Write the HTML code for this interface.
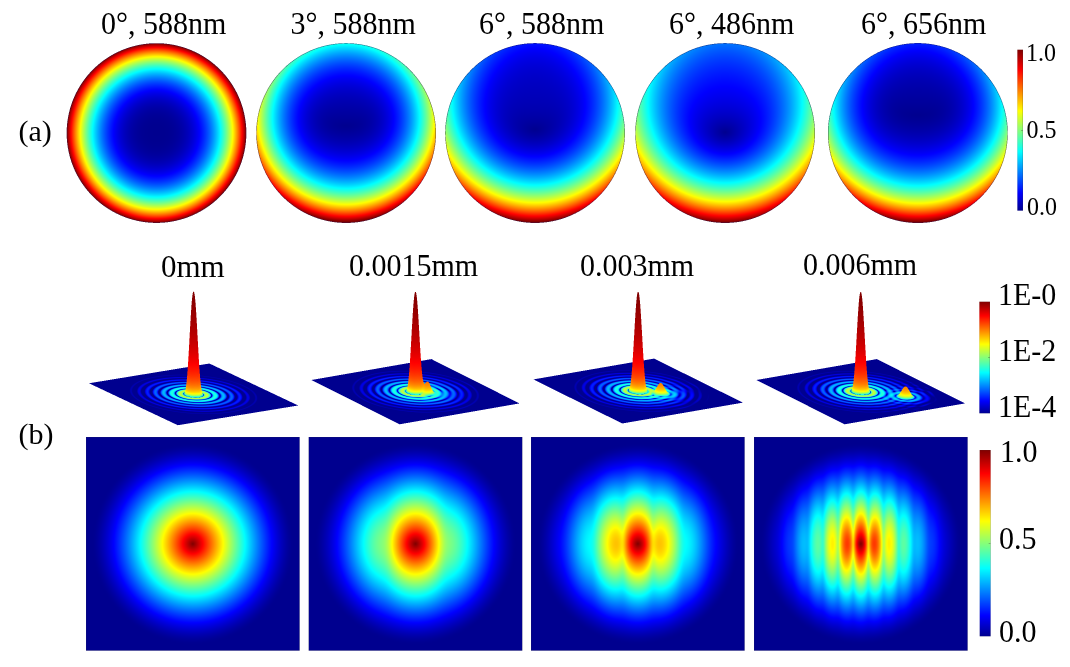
<!DOCTYPE html>
<html>
<head>
<meta charset="utf-8">
<style>
html,body{margin:0;padding:0;background:#fff;}
body{width:1070px;height:667px;position:relative;overflow:hidden;font-family:"Liberation Serif",serif;color:#000;}
#c{position:absolute;left:0;top:0;width:1070px;height:667px;}
.t{position:absolute;white-space:nowrap;line-height:1;font-size:30px;}
.s{font-size:24px;}
.d{transform:scaleY(1.065);transform-origin:0 26.7px;}
.s.d{transform:scaleY(1.035);transform-origin:0 21.4px;}
.fb{position:absolute;}
.jet{background:linear-gradient(to top,#00008f 0%,#0000ff 12.5%,#00ffff 37.5%,#ffff00 62.5%,#ff0000 87.5%,#800000 100%);}
.sq{top:437px;width:214px;height:214px;background:radial-gradient(circle at center,#800000 0,#ff0000 13px,#ffff00 30px,#00ffff 52px,#0000ff 77px,#00008f 100px);}
.ci{top:43.5px;width:179px;height:179px;border-radius:50%;}
</style>
</head>
<body>
<div class="fb ci" style="left:67px;background:radial-gradient(circle at center,#00008f 0,#00008f 22px,#0000ff 44px,#00ffff 63px,#ffff00 76px,#ff0000 85px,#800000 90px)"></div>
<div class="fb ci" style="left:256.5px;background:radial-gradient(circle at 50% 43%,#00008f 0,#00008f 12px,#0000ff 42px,#00ffff 72px,#ffff00 86px,#ff0000 96px,#800000 104px)"></div>
<div class="fb ci" style="left:445.5px;background:radial-gradient(circle at 50% 28%,#00008f 0,#00008f 20px,#0000ff 55px,#00ffff 100px,#ffff00 116px,#ff0000 127px,#800000 133px)"></div>
<div class="fb ci" style="left:635.5px;background:radial-gradient(circle at 50% 30%,#00008f 0,#00008f 15px,#0000ff 48px,#00ffff 95px,#ffff00 113px,#ff0000 124px,#800000 130px)"></div>
<div class="fb ci" style="left:828.2px;background:radial-gradient(circle at 50% 25%,#00008f 0,#00008f 30px,#0000ff 62px,#00ffff 106px,#ffff00 122px,#ff0000 131px,#800000 137px)"></div>
<div class="fb jet" style="left:1017px;top:50px;width:6px;height:161px"></div>
<div class="fb jet" style="left:979px;top:302px;width:11px;height:111px"></div>
<div class="fb jet" style="left:980px;top:450px;width:11px;height:186px"></div>
<div class="fb sq" style="left:86px"></div>
<div class="fb sq" style="left:308.7px"></div>
<div class="fb sq" style="left:531px"></div>
<div class="fb sq" style="left:754px"></div>
<svg class="fb" style="left:0;top:0" width="1070" height="667">
<g fill="#00008f"><polygon points="89,383.3 209.4,363.5 298.2,405.5 177.8,425.2"/><polygon points="311.4,379.9 431.4,359.2 519.5,403.3 399.6,424.4"/><polygon points="533.2,379.2 654.2,358.8 742.8,402.4 622.4,423.7"/><polygon points="756.4,379.9 876.8,359.2 965,403.3 844.6,424.4"/></g>
<g fill="none" stroke="#0060ff" stroke-width="3" opacity="0.8"><ellipse cx="193.6" cy="394.4" rx="40" ry="13"/><ellipse cx="415.5" cy="391.6" rx="40" ry="13"/><ellipse cx="638" cy="390.8" rx="40" ry="13"/><ellipse cx="860.7" cy="391.6" rx="40" ry="13"/></g>
<g fill="#00ffff" opacity="0.7"><ellipse cx="193.6" cy="394.4" rx="18" ry="6"/><ellipse cx="415.5" cy="391.6" rx="18" ry="6"/><ellipse cx="638" cy="390.8" rx="18" ry="6"/><ellipse cx="860.7" cy="391.6" rx="18" ry="6"/></g>
<g fill="#e00000"><polygon points="193.5,291.7 185,392 202,392"/><polygon points="415.7,292.1 407,390 424,390"/><polygon points="638.1,292.1 629.5,389 646.5,389"/><polygon points="860.7,292.1 852,390 869,390"/></g>
</svg>
<canvas id="c" width="1070" height="667"></canvas>

<div class="t d" style="left:101px;top:8.5px">0°, 588nm</div>
<div class="t d" style="left:290.5px;top:8.5px">3°, 588nm</div>
<div class="t d" style="left:479px;top:8.5px">6°, 588nm</div>
<div class="t d" style="left:669px;top:8.5px">6°, 486nm</div>
<div class="t d" style="left:861px;top:8.5px">6°, 656nm</div>
<div class="t" style="left:18.5px;top:116px">(a)</div>
<div class="t d s" style="left:1026px;top:40.5px">1.0</div>
<div class="t d s" style="left:1026.5px;top:117.5px">0.5</div>
<div class="t d s" style="left:1027px;top:194.5px">0.0</div>

<div class="t" style="left:161px;top:250.5px;font-size:31px">0mm</div>
<div class="t d" style="left:349px;top:250.5px">0.0015mm</div>
<div class="t d" style="left:580px;top:250.5px">0.003mm</div>
<div class="t d" style="left:803px;top:250px">0.006mm</div>
<div class="t d" style="left:998px;top:280px">1E-0</div>
<div class="t d" style="left:998px;top:335.5px">1E-2</div>
<div class="t d" style="left:998px;top:391.5px">1E-4</div>
<div class="t" style="left:18.5px;top:418.5px">(b)</div>
<div class="t d" style="left:1000px;top:436.5px">1.0</div>
<div class="t d" style="left:999px;top:523.5px">0.5</div>
<div class="t d" style="left:999px;top:616.5px">0.0</div>

<script>
(function(){
var W=1070,H=667,SS=3,SW=W*SS,SH=H*SS;
var buf=new Float32Array(SW*SH*3);
for(var i=0;i<buf.length;i++)buf[i]=255;
// jet(64)
var JR=new Float32Array(64),JG=new Float32Array(64),JB=new Float32Array(64);
(function(){var n=16,u=[],k;for(k=1;k<=n;k++)u.push(k/n);for(k=1;k<n;k++)u.push(1);for(k=n;k>=1;k--)u.push(k/n);
for(k=0;k<u.length;k++){var gi=8+k+1,ri=gi+n,bi=gi-n;
if(gi>=1&&gi<=64)JG[gi-1]=u[k];if(ri>=1&&ri<=64)JR[ri-1]=u[k];if(bi>=1&&bi<=64)JB[bi-1]=u[k];}})();
function jet(v,out){if(!(v>0))v=0;if(v>1)v=1;var t=v*63,i=Math.floor(t);if(i>=63){i=62;}var f=t-i;
out[0]=255*(JR[i]+(JR[i+1]-JR[i])*f);out[1]=255*(JG[i]+(JG[i+1]-JG[i])*f);out[2]=255*(JB[i]+(JB[i+1]-JB[i])*f);}
var col=[0,0,0];
function put(X,Y,r,g,b,a){if(X<0||Y<0||X>=SW||Y>=SH)return;var o=(Y*SW+X)*3;
if(a>=1){buf[o]=r;buf[o+1]=g;buf[o+2]=b;}else if(a>0){buf[o]+=(r-buf[o])*a;buf[o+1]+=(g-buf[o+1])*a;buf[o+2]+=(b-buf[o+2])*a;}}

// ---------- circles (a) ----------
var circles=[
 {cx:156.5,cy:133.05,R:89.5,p:[1,0,1,0,0,0]},
 {cx:346.1,cy:133.05,R:89.55,p:[0.6077,0.0539,0.5315,0.1041,0.1741,0.0123]},
 {cx:535.05,cy:133.05,R:89.55,p:[0.3699,0.1342,0.324,0.1449,0.25,0.0096]},
 {cx:725.1,cy:133.05,R:89.55,p:[0.2924,0.2573,0.2674,0.1296,0.3502,0.0034]},
 {cx:917.85,cy:133.05,R:89.6,p:[0.4181,0.0579,0.3703,0.1271,0.2118,0.03,0.0279]}
];
circles.forEach(function(c){
 var P=c.p;
 var x0=Math.floor((c.cx-c.R-2)*SS),x1=Math.ceil((c.cx+c.R+2)*SS),y0=Math.floor((c.cy-c.R-2)*SS),y1=Math.ceil((c.cy+c.R+2)*SS);
 for(var Y=y0;Y<y1;Y++){var y=(Y+0.5)/SS;for(var X=x0;X<x1;X++){var x=(X+0.5)/SS;
  var dx=x-c.cx,dy=y-c.cy,d=Math.sqrt(dx*dx+dy*dy);
  if(d>c.R+0.35)continue;
  var px=dx/c.R,py=dy/c.R,r2=px*px+py*py;if(r2>1){px/=Math.sqrt(r2);py/=Math.sqrt(r2);r2=1;}
  var ex=px*(P[0]*r2+2*P[3]*py+P[1]);
  var ey=P[2]*r2*py+P[3]*(r2+2*py*py)+P[4]*py+P[5]+(P[6]||0)*r2*py*py;
  var v=Math.sqrt(ex*ex+ey*ey);
  jet(v,col);
  if(d<=c.R-0.25) put(X,Y,col[0],col[1],col[2],1);
  else { put(X,Y,col[0],col[1],col[2],1); put(X,Y,35,25,90,0.55); }
 }}
});

// ---------- colorbars ----------
function cbar(x,y,w,h){var X0=Math.round(x*SS),X1=Math.round((x+w)*SS),Y0=Math.round(y*SS),Y1=Math.round((y+h)*SS);
 for(var Y=Y0;Y<Y1;Y++){var v=1-(Y+0.5-Y0)/(Y1-Y0);jet(v,col);for(var X=X0;X<X1;X++)put(X,Y,col[0],col[1],col[2],1);
  put(X0,Y,70,70,70,0.3);put(X1-1,Y,60,60,60,0.45);put(X1-2,Y,60,60,60,0.12);}
 for(var X=X0;X<X1;X++){put(X,Y0,70,70,70,0.3);put(X,Y1-1,70,70,70,0.3);}
 var Ym=Math.round((Y0+Y1)/2);for(var X=X1-6;X<X1;X++){put(X,Ym,60,60,60,0.7);put(X,Ym-1,60,60,60,0.3);}
}
cbar(1017.2,49.8,5.8,161);
cbar(979.2,301.7,10.7,111.5);
cbar(979.6,450.1,11.2,186.2);

// ---------- squares (b bottom) ----------
function mtf(n){if(n>=1)return 0;return (2/Math.PI)*(Math.acos(n)-n*Math.sqrt(1-n*n));}
var squares=[{x:86.0,p:0,c:0,g:1},{x:308.7,p:60.8,c:0.6,g:0.16},{x:531.1,p:30.4,c:0.6,g:0.16},{x:754.0,p:15.2,c:0.6,g:0.22}];
squares.forEach(function(s){
 var sx=s.x,sy=437.1,sw=213.6,sh=213.5,cx=sx+sw/2,cy=sy+sh/2,rc=100,c2=s.c;
 var X0=Math.round(sx*SS),X1=Math.round((sx+sw)*SS),Y0=Math.round(sy*SS),Y1=Math.round((sy+sh)*SS);
 for(var Y=Y0;Y<Y1;Y++){var y=(Y+0.5)/SS-cy;for(var X=X0;X<X1;X++){var x=(X+0.5)/SS-cx;
  var r=Math.sqrt(x*x+y*y),v=mtf(r/rc);
  if(s.p>0){var ph=2*Math.PI*x/s.p,cc=c2*Math.exp(-(r*r)/6000);v*=Math.pow(Math.sqrt(1+cc*cc+2*cc*Math.cos(ph))/(1+cc),s.g);}
  jet(v,col);put(X,Y,col[0],col[1],col[2],1);
 }}
 for(var Y=Y0;Y<Y1;Y++){put(X0,Y,50,50,60,0.45);put(X1-1,Y,50,50,60,0.55);}
 for(var X=X0;X<X1;X++){put(X,Y0,50,50,60,0.45);put(X,Y1-1,50,50,60,0.55);}
});

// ---------- 3D surfaces ----------
function J1(x){var ax=Math.abs(x),y,ans1,ans2,z,xx,ans;
 if(ax<8.0){y=x*x;ans1=x*(72362614232.0+y*(-7895059235.0+y*(242396853.1+y*(-2972611.439+y*(15704.48260+y*(-30.16036606))))));
  ans2=144725228442.0+y*(2300535178.0+y*(18583304.74+y*(99447.43394+y*(376.9991397+y*1.0))));ans=ans1/ans2;}
 else{z=8.0/ax;y=z*z;xx=ax-2.356194491;
  ans1=1.0+y*(0.183105e-2+y*(-0.3516396496e-4+y*(0.2457520174e-5+y*(-0.240337019e-6))));
  ans2=0.04687499995+y*(-0.2002690873e-3+y*(0.8449199096e-5+y*(-0.88228987e-6+y*0.105787412e-6)));
  ans=Math.sqrt(0.636619772/ax)*(Math.cos(xx)*ans1-z*Math.sin(xx)*ans2);if(x<0)ans=-ans;}
 return ans;}
function airy(x){if(x<1e-6)return 1;var j=2*J1(x)/x;return j*j;}
var plots=[
 {L:[89.0,383.3],T:[209.4,363.5],R:[298.2,405.5],B:[177.8,425.2],top:291.7,sep:0},
 {L:[311.4,379.9],T:[431.4,359.2],R:[519.5,403.3],B:[399.6,424.4],top:292.1,sep:0.108},
 {L:[533.2,379.2],T:[654.2,358.8],R:[742.8,402.4],B:[622.4,423.7],top:292.1,sep:0.215},
 {L:[756.4,379.9],T:[876.8,359.2],R:[965.0,403.3],B:[844.6,424.4],top:292.1,sep:0.43}
];
var K=29,C2=0.1;
plots.forEach(function(p){
 var cx=(p.L[0]+p.R[0]+p.T[0]+p.B[0])/4,cy=(p.L[1]+p.R[1]+p.T[1]+p.B[1])/4;
 var e1x=(p.T[0]-p.L[0]+p.R[0]-p.B[0])/4,e1y=(p.T[1]-p.L[1]+p.R[1]-p.B[1])/4;
 var e2x=(p.B[0]-p.L[0]+p.R[0]-p.T[0])/4,e2y=(p.B[1]-p.L[1]+p.R[1]-p.T[1])/4;
 var det=e1x*e2y-e1y*e2x;var Hh=cy-p.top;
 function I(a,b){var r1=Math.sqrt(a*a+b*b)*K;var v=airy(r1);if(p.sep>0){var da=a-p.sep,db=b-p.sep;v+=C2*airy(Math.sqrt(da*da+db*db)*K);}return v;}
 var minx=Math.min(p.L[0],p.B[0]),maxx=Math.max(p.R[0],p.T[0]),miny=Math.min(p.T[1],p.L[1]),maxy=Math.max(p.B[1],p.R[1]);
 var X0=Math.floor(minx*SS)-2,X1=Math.ceil(maxx*SS)+2,Y0=Math.floor(miny*SS)-2,Y1=Math.ceil(maxy*SS)+2;
 for(var Y=Y0;Y<Y1;Y++){var y=(Y+0.5)/SS-cy;for(var X=X0;X<X1;X++){var x=(X+0.5)/SS-cx;
  var a=(x*e2y-y*e2x)/det,b=(e1x*y-e1y*x)/det;
  if(a<-1||a>1||b<-1||b>1)continue;
  var v=I(a,b)*Math.exp(-0.4*(a*a+b*b));var lv=1+Math.log(v)/Math.LN10/4;jet(lv,col);put(X,Y,col[0],col[1],col[2],1);
 }}
 // spikes: painter columns
 var peaks=[[0,0,1]];if(p.sep>0)peaks.push([p.sep,p.sep,C2]);
 var samples=[];var rr=3.9/K,st=0.0015;
 peaks.forEach(function(pk){
  for(var a=pk[0]-rr;a<=pk[0]+rr;a+=st)for(var b=pk[1]-rr;b<=pk[1]+rr;b+=st){
   var da=a-pk[0],db=b-pk[1];if(da*da+db*db>rr*rr)continue;
   var v=I(a,b);var hgt=Hh*v;if(hgt<0.35)continue;
   var sx=cx+a*e1x+b*e2x,sy=cy+a*e1y+b*e2y;samples.push([sy,sx,hgt,v]);
  }
 });
 samples.sort(function(u,w){return u[0]-w[0];});
 samples.forEach(function(sm){
  var lv=1+Math.log(sm[3])/Math.LN10/4;jet(lv,col);
  var X=Math.floor(sm[1]*SS),Yb=Math.floor(sm[0]*SS),Yt=Math.floor((sm[0]-sm[2])*SS);
  for(var Y=Yt;Y<=Yb;Y++)put(X,Y,col[0],col[1],col[2],1);
 });
});

// ---------- downsample ----------
var cv=document.getElementById('c'),ctx=cv.getContext('2d');
var img=ctx.createImageData(W,H),d=img.data,n2=SS*SS;
for(var y=0;y<H;y++)for(var x=0;x<W;x++){var r=0,g=0,b=0;
 for(var j=0;j<SS;j++){var row=((y*SS+j)*SW+x*SS)*3;for(var i2=0;i2<SS;i2++){var o=row+i2*3;r+=buf[o];g+=buf[o+1];b+=buf[o+2];}}
 var q=(y*W+x)*4;d[q]=r/n2;d[q+1]=g/n2;d[q+2]=b/n2;d[q+3]=255;}
ctx.putImageData(img,0,0);
})();
</script>
</body>
</html>
